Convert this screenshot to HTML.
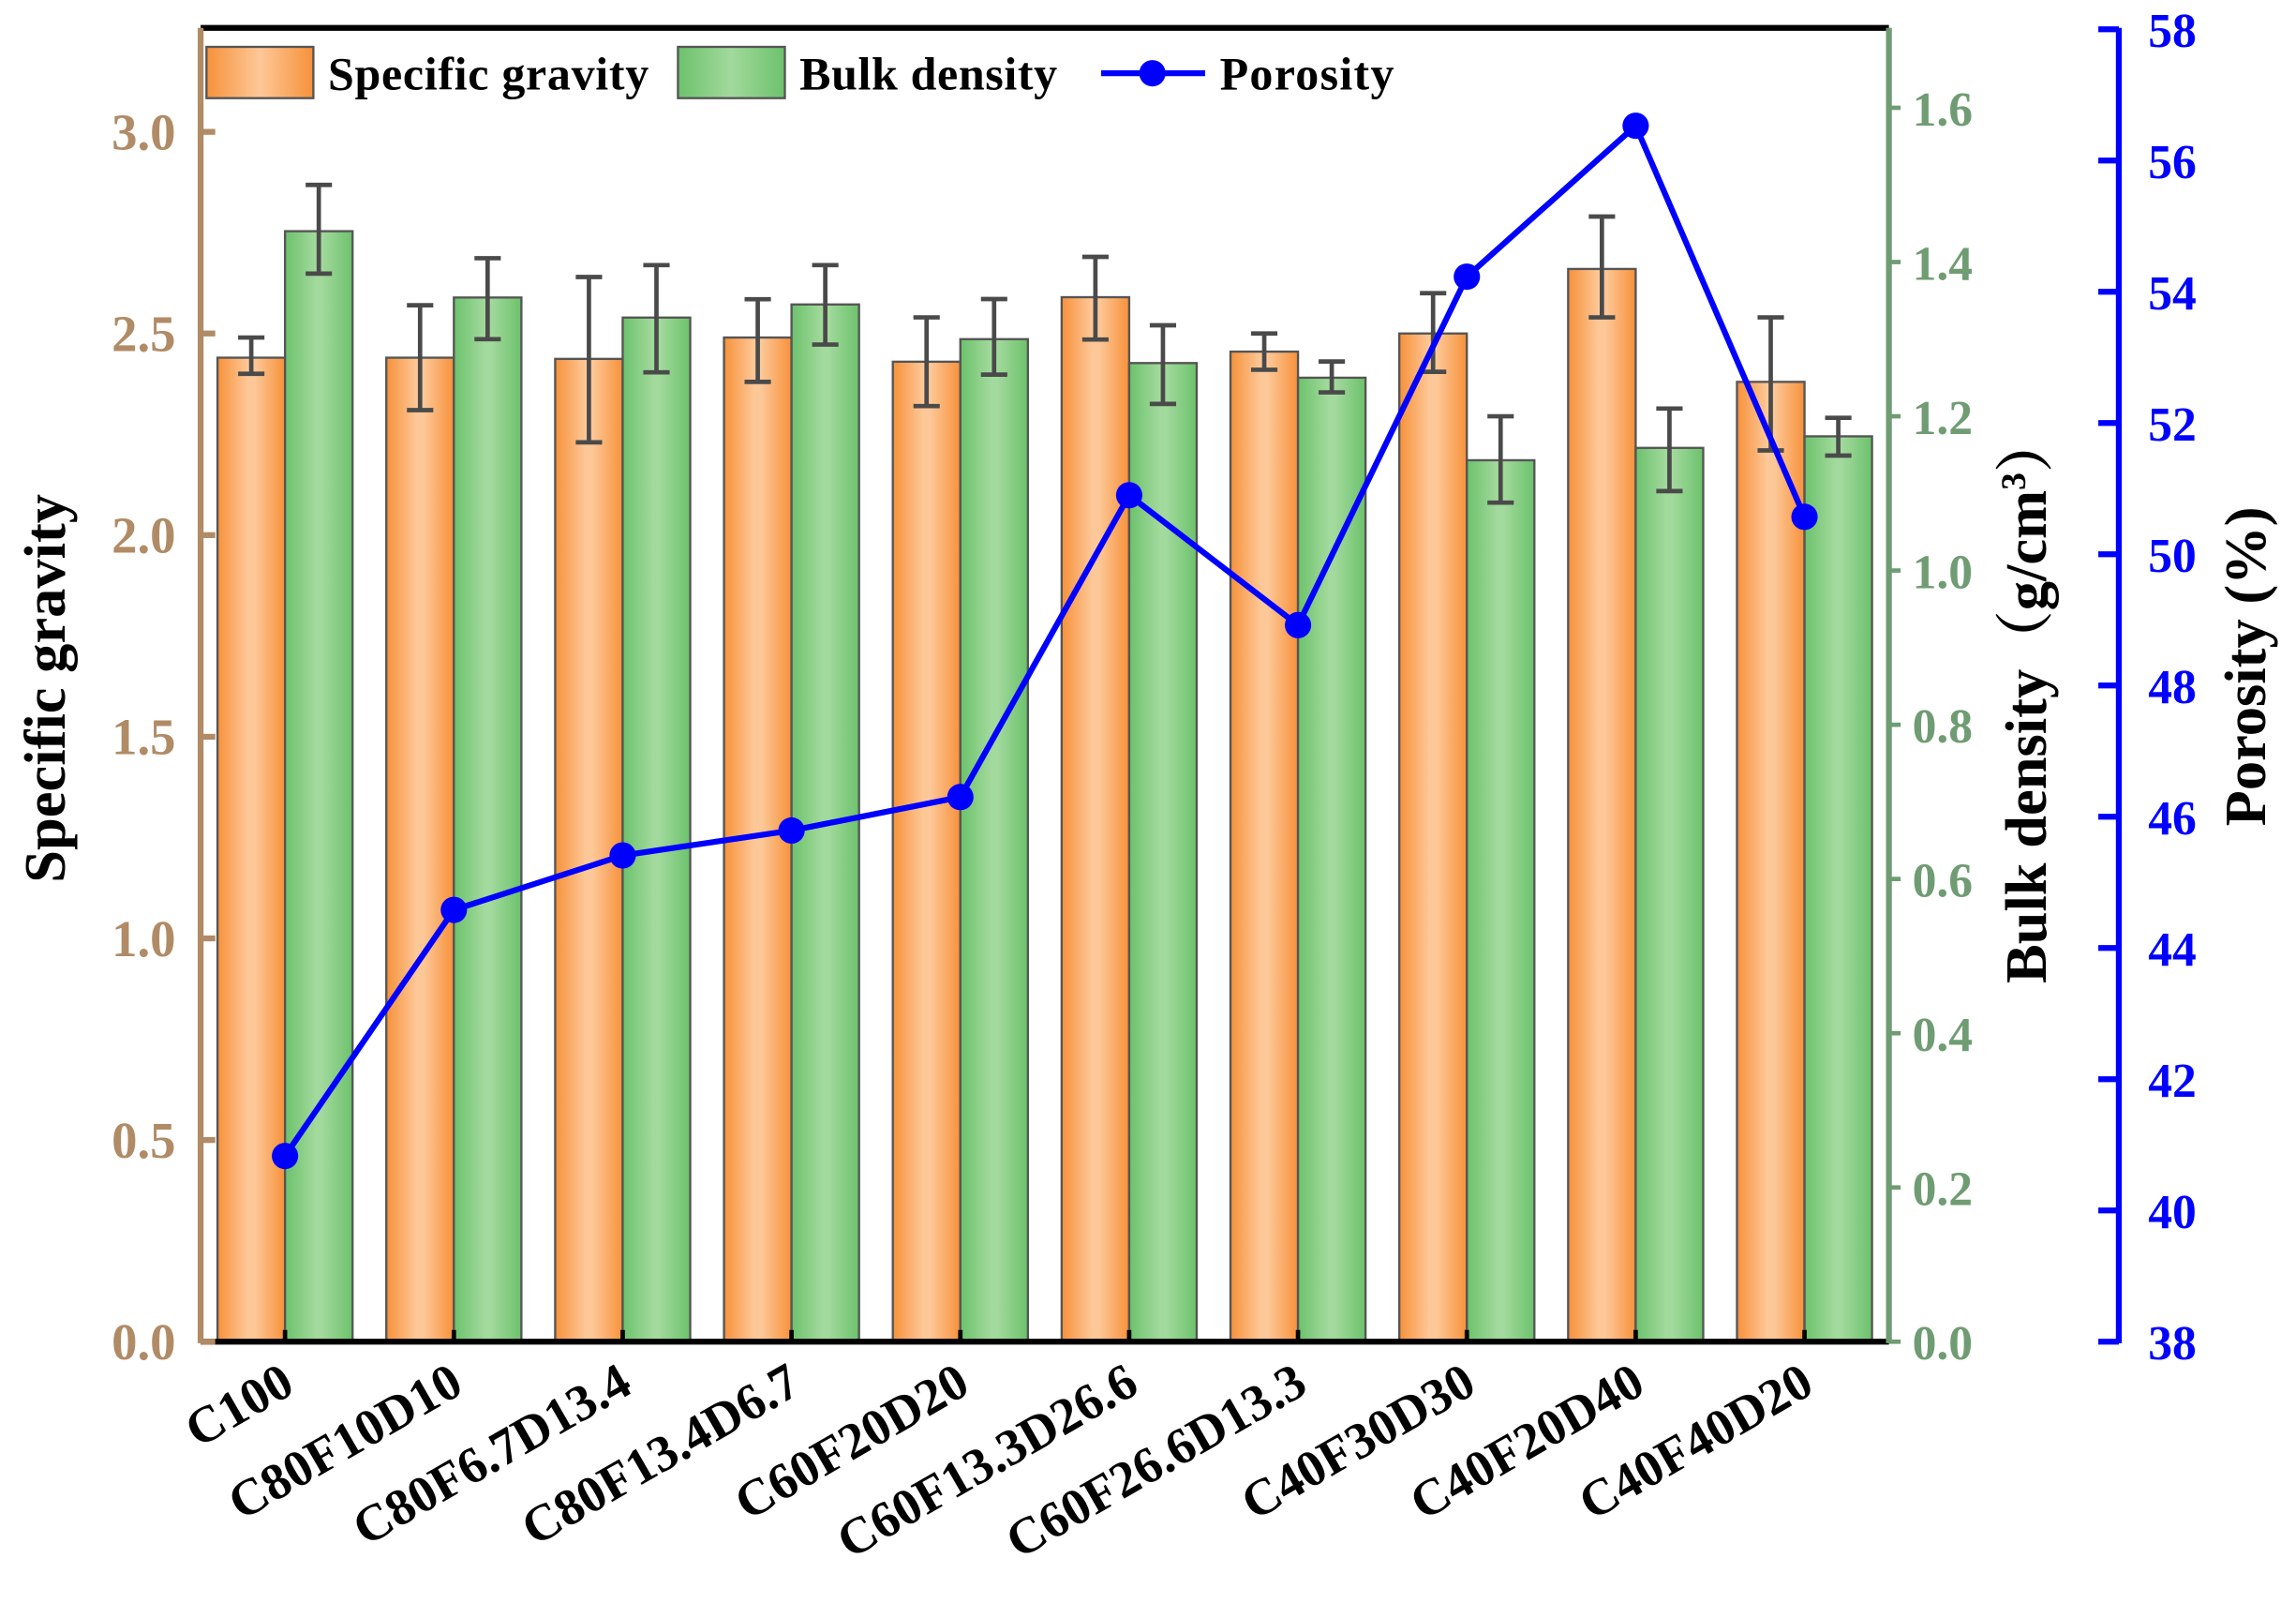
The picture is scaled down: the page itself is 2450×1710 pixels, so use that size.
<!DOCTYPE html>
<html><head><meta charset="utf-8"><style>
html,body{margin:0;padding:0;background:#fff;}
svg{display:block;font-family:"Liberation Serif",serif;font-weight:bold;}
</style></head><body>
<svg id="chart" width="2450" height="1710" viewBox="0 0 1568 1094.4" xmlns="http://www.w3.org/2000/svg">
<defs>
<linearGradient id="gO" x1="0" x2="1" y1="0" y2="0"><stop offset="0" stop-color="#f7913a"/><stop offset="0.45" stop-color="#fdc898"/><stop offset="0.55" stop-color="#fdc898"/><stop offset="1" stop-color="#f7913a"/></linearGradient>
<linearGradient id="gG" x1="0" x2="1" y1="0" y2="0"><stop offset="0" stop-color="#6cc26c"/><stop offset="0.45" stop-color="#a2d99c"/><stop offset="0.55" stop-color="#a2d99c"/><stop offset="1" stop-color="#6cc26c"/></linearGradient>
</defs>
<g id="plot"></g>
</svg>
<script>
const categories=["C100","C80F10D10","C80F6.7D13.4","C80F13.4D6.7","C60F20D20","C60F13.3D26.6","C60F26.6D13.3","C40F30D30","C40F20D40","C40F40D20"];
const sgValues=[2.44,2.44,2.437,2.49,2.43,2.59,2.455,2.50,2.66,2.38];
const sgErrHi=[2.49,2.57,2.64,2.585,2.54,2.69,2.50,2.60,2.79,2.54];
const sgErrLo=[2.40,2.31,2.23,2.38,2.32,2.485,2.41,2.405,2.54,2.21];
const bdValues=[1.44,1.354,1.328,1.345,1.30,1.269,1.25,1.143,1.159,1.174];
const bdErrHi=[1.50,1.405,1.396,1.396,1.352,1.318,1.271,1.20,1.21,1.198];
const bdErrLo=[1.385,1.30,1.257,1.293,1.254,1.216,1.231,1.088,1.103,1.149];
const porosity=[40.83,44.58,45.41,45.79,46.30,50.90,48.92,54.23,56.53,50.57];
const sgTicks=["0.0","0.5","1.0","1.5","2.0","2.5","3.0"];
const bdTicks=["0.0","0.2","0.4","0.6","0.8","1.0","1.2","1.4","1.6"];
const poTicks=["38","40","42","44","46","48","50","52","54","56","58"];

const NS="http://www.w3.org/2000/svg";
const g=document.getElementById('plot');
const L=137,R=1290,T=19,B=916,BX=1447;
const ySG=v=>B-v*275.33;
const yBD=v=>B-v*526.5;
const yPO=v=>B-(v-38)*44.8;
const band=(R-L)/categories.length;
const xC=i=>L+band*(i+0.5);
function mk(tag,attrs,parent){const e=document.createElementNS(NS,tag);for(const k in attrs)e.setAttribute(k,attrs[k]);(parent||g).appendChild(e);return e;}
function txt(s,attrs){const e=mk('text',attrs);e.textContent=s;return e;}
const bw=band*0.4;
categories.forEach((c,i)=>{
  const xo=xC(i)-bw, xg=xC(i);
  const ro=mk('rect',{x:xo,y:ySG(sgValues[i]),width:bw,height:B-ySG(sgValues[i]),fill:'url(#gO)',stroke:'#555','stroke-width':1.5});
  
  
  const rg=mk('rect',{x:xg,y:yBD(bdValues[i]),width:bw,height:B-yBD(bdValues[i]),fill:'url(#gG)',stroke:'#555','stroke-width':1.5});
  
  
  [[xo+bw/2,ySG(sgErrHi[i]),ySG(sgErrLo[i]),'sg'],[xg+bw/2,yBD(bdErrHi[i]),yBD(bdErrLo[i]),'bd']].forEach(a=>{
    const eg=mk('g',{stroke:'#4a4a4a','stroke-width':3});
    
    
    mk('line',{x1:a[0],x2:a[0],y1:a[1],y2:a[2]},eg);
    mk('line',{x1:a[0]-9,x2:a[0]+9,y1:a[1],y2:a[1]},eg);
    mk('line',{x1:a[0]-9,x2:a[0]+9,y1:a[2],y2:a[2]},eg);
  });
  const t=txt(c,{x:0,y:0,'font-size':35,'text-anchor':'end',transform:`translate(${xC(i)+8},${B+34}) rotate(-30)`});
  
  
});
const pts=porosity.map((v,i)=>xC(i)+','+yPO(v)).join(' ');
const pl=mk('polyline',{points:pts,fill:'none',stroke:'#0000ff','stroke-width':4});


porosity.forEach((v,i)=>{const c=mk('circle',{cx:xC(i),cy:yPO(v),r:9,fill:'#0000ff'});

});
const ax=(a,n)=>{const e=mk('line',a);};
ax({x1:L,x2:R,y1:T,y2:T,stroke:'#000','stroke-width':4},'top-frame');
ax({x1:L,x2:R,y1:B,y2:B,stroke:'#000','stroke-width':4},'x-axis');
ax({x1:L,x2:L,y1:T,y2:B+1,stroke:'#b08b65','stroke-width':4},'left-y-axis');
ax({x1:R,x2:R,y1:T,y2:B+1,stroke:'#6f9c72','stroke-width':4},'right-y-axis-bulk');
ax({x1:BX,x2:BX,y1:T,y2:B+1,stroke:'#0000ff','stroke-width':4},'right-y-axis-porosity');
categories.forEach((c,i)=>{mk('line',{x1:xC(i),x2:xC(i),y1:B,y2:B-8,stroke:'#000','stroke-width':3});});
sgTicks.forEach(s=>{const y=ySG(+s);mk('line',{x1:L,x2:L+10,y1:y,y2:y,stroke:'#b08b65','stroke-width':4});
const t=txt(s,{x:L-17,y:y+12,'font-size':35,'text-anchor':'end',fill:'#b08b65'});
});
bdTicks.forEach(s=>{const y=yBD(+s);mk('line',{x1:R,x2:R+8,y1:y,y2:y,stroke:'#6f9c72','stroke-width':3});
const t=txt(s,{x:R+16,y:y+12,'font-size':33,'text-anchor':'start',fill:'#6f9c72'});
});
poTicks.forEach(s=>{const y=yPO(+s);mk('line',{x1:BX-14,x2:BX,y1:y,y2:y,stroke:'#0000ff','stroke-width':4});
const t=txt(s,{x:BX+20,y:y+12,'font-size':33,'text-anchor':'start',fill:'#0000ff'});
});
</script>
<svg style="position:absolute;left:0;top:0" width="2450" height="1710" viewBox="0 0 1568 1094.4" xmlns="http://www.w3.org/2000/svg" font-family="Liberation Serif, serif" font-weight="bold">
<text x="0" y="0" font-size="40" text-anchor="middle" transform="translate(44,470) rotate(-90)">Specific gravity</text>
<text x="0" y="0" font-size="40" text-anchor="middle" transform="translate(1397,477) rotate(-90)" font-family="Liberation Serif, Noto Serif CJK SC, serif">Bulk density（g/cm<tspan font-size="24" dy="-14">3</tspan><tspan dy="14">）</tspan></text>
<text x="0" y="0" font-size="40" text-anchor="middle" transform="translate(1547,455) rotate(-90)">Porosity (%)</text>
<g font-size="32">
<rect x="141" y="32" width="73" height="35" fill="url(#gO2)" stroke="#555" stroke-width="1.5"/>
<text x="224" y="61" textLength="219">Specific gravity</text>
<rect x="463" y="32" width="73" height="35" fill="url(#gG2)" stroke="#555" stroke-width="1.5"/>
<text x="546" y="61" textLength="176">Bulk density</text>
<line x1="752" x2="823" y1="50" y2="50" stroke="#0000ff" stroke-width="4"/>
<circle cx="787" cy="50" r="9" fill="#0000ff"/>
<text x="833" y="61" textLength="119">Porosity</text>
</g>
<defs>
<linearGradient id="gO2" x1="0" x2="1"><stop offset="0" stop-color="#f7913a"/><stop offset="0.5" stop-color="#fdc898"/><stop offset="1" stop-color="#f7913a"/></linearGradient>
<linearGradient id="gG2" x1="0" x2="1"><stop offset="0" stop-color="#6cc26c"/><stop offset="0.5" stop-color="#a2d99c"/><stop offset="1" stop-color="#6cc26c"/></linearGradient>
</defs>
</svg>
</body></html>
